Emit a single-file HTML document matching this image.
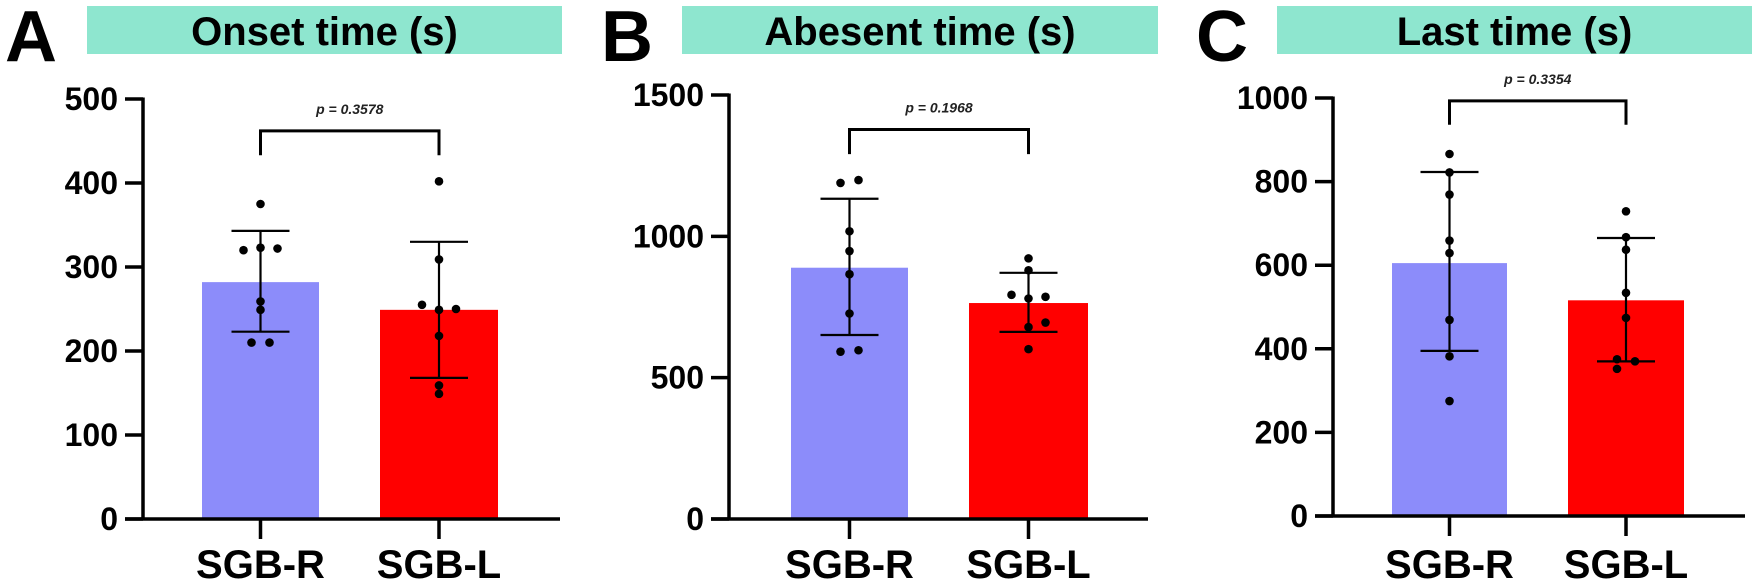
<!DOCTYPE html>
<html><head><meta charset="utf-8"><style>
html,body{margin:0;padding:0;background:#fff;}
svg{display:block;font-family:"Liberation Sans",Arial,sans-serif;}
</style></head><body>
<svg id="chart" width="1755" height="583" viewBox="0 0 1755 583" xmlns="http://www.w3.org/2000/svg"></svg>
<script>
const categories = ["SGB-R","SGB-L"];
const panelTitles = ["Onset time (s)","Abesent time (s)","Last time (s)"];
const panelLetters = ["A","B","C"];
const pLabels = ["p = 0.3578","p = 0.1968","p = 0.3354"];
const yMaxes = [500,1500,1000];
const tickVals = [[0,100,200,300,400,500],[0,500,1000,1500],[0,200,400,600,800,1000]];
const meansA = [282,249];
const sdA = [[223,343],[168,330]];
const pointsAR = [375,320,323,322,259,249,210,210];
const pointsAL = [402,309,255,249,250,218,159,149];
const meansB = [889,764];
const sdB = [[651,1133],[662,871]];
const pointsBR = [1189,1199,1018,948,866,727,592,597];
const pointsBL = [922,880,793,780,786,695,679,601];
const meansC = [605,516];
const sdC = [[395,823],[370,665]];
const pointsCR = [866,822,769,659,629,469,382,275];
const pointsCL = [729,667,637,534,474,375,370,352];
const bracketTops = [462,1378,993];
const bracketLegs = [433,1291,936];

const panels = [
 {ax:143,y0:519,yt:99,right:560,bars:[[202,319],[380,498]],title:[87,562],letter:5,means:meansA,sd:sdA,pts:[pointsAR,pointsAL],dx:[[0,-17,0,17,0,0,-9,9],[0,0,-17,0,17,0,0,0]]},
 {ax:729,y0:519,yt:95,right:1148,bars:[[791,908],[969,1088]],title:[682,1158],letter:601,means:meansB,sd:sdB,pts:[pointsBR,pointsBL],dx:[[-9,9,0,0,0,0,-9,9],[0,0,-17,0,17,17,0,0]]},
 {ax:1333,y0:516,yt:98,right:1745,bars:[[1392,1507],[1568,1684]],title:[1277,1752],letter:1196,means:meansC,sd:sdC,pts:[pointsCR,pointsCL],dx:[[0,0,0,0,0,0,0,0],[0,0,0,0,0,-9,9,-9]]}
];
const svg = document.getElementById('chart');
const NS = "http://www.w3.org/2000/svg";
function mk(tag, attrs, parent){const e=document.createElementNS(NS,tag);for(const k in attrs)e.setAttribute(k,attrs[k]);(parent||svg).appendChild(e);return e;}

panels.forEach((p,i)=>{
  const g = mk('g',{});
  
  
  const ymax = yMaxes[i];
  const Y = v => p.y0 - v/ymax*(p.y0-p.yt);
  const cx = p.bars.map(b=>(b[0]+b[1])/2);
  const tb = mk('rect',{x:p.title[0],y:6,width:p.title[1]-p.title[0],height:48,fill:'#8ee6cf'},g);
  
  
  const tt = mk('text',{x:(p.title[0]+p.title[1])/2,y:45,'font-size':40,'font-weight':'bold','text-anchor':'middle',fill:'#000'},g);
  tt.textContent = panelTitles[i];
  
  
  const lt = mk('text',{x:p.letter,y:61,'font-size':72,'font-weight':'bold',fill:'#000'},g);
  lt.textContent = panelLetters[i];
  
  
  [0,1].forEach(j=>{
    const r = mk('rect',{x:p.bars[j][0],y:Y(p.means[j]),width:p.bars[j][1]-p.bars[j][0],height:p.y0-Y(p.means[j]),fill:j?'#ff0000':'#8c8cfa'},g);
    
    
  });
  [0,1].forEach(j=>{
    const e = mk('g',{stroke:'#000','stroke-width':2.2},g);
    
    
    mk('line',{x1:cx[j],x2:cx[j],y1:Y(p.sd[j][0]),y2:Y(p.sd[j][1])},e);
    mk('line',{x1:cx[j]-29,x2:cx[j]+29,y1:Y(p.sd[j][0]),y2:Y(p.sd[j][0])},e);
    mk('line',{x1:cx[j]-29,x2:cx[j]+29,y1:Y(p.sd[j][1]),y2:Y(p.sd[j][1])},e);
  });
  [0,1].forEach(j=>{
    p.pts[j].forEach((v,k)=>{
      const c = mk('circle',{cx:cx[j]+p.dx[j][k],cy:Y(v),r:4.3,fill:'#000'},g);
      
      
    });
  });
  const ax = mk('g',{stroke:'#000','stroke-width':3.5,fill:'none'},g);
  
  
  mk('line',{x1:p.ax,x2:p.ax,y1:p.yt-1.5,y2:p.y0},ax);
  mk('line',{x1:p.ax-18,x2:p.right,y1:p.y0,y2:p.y0},ax);
  tickVals[i].forEach(v=>{
    mk('line',{x1:p.ax-18,x2:p.ax,y1:Y(v),y2:Y(v)},ax);
    const t = mk('text',{x:p.ax-25,y:Y(v)+11,'font-size':32,'font-weight':'bold','text-anchor':'end',fill:'#000'},g);
    t.textContent = v;
    
    
  });
  [0,1].forEach(j=>{
    mk('line',{x1:cx[j],x2:cx[j],y1:p.y0,y2:p.y0+20},ax);
    const t = mk('text',{x:cx[j],y:578,'font-size':40,'font-weight':'bold','text-anchor':'middle',fill:'#000'},g);
    t.textContent = categories[j];
    
    
  });
  const bt = Y(bracketTops[i]), bl = Y(bracketLegs[i]);
  const br = mk('path',{d:`M${cx[0]},${bl}V${bt}H${cx[1]}V${bl}`,stroke:'#000','stroke-width':3,fill:'none'},g);
  
  
  const pt = mk('text',{x:(cx[0]+cx[1])/2,y:bt-17,'font-size':14,'font-weight':'bold','font-style':'italic','text-anchor':'middle',fill:'#222'},g);
  pt.textContent = pLabels[i];
  
  
});
</script>
</body></html>
